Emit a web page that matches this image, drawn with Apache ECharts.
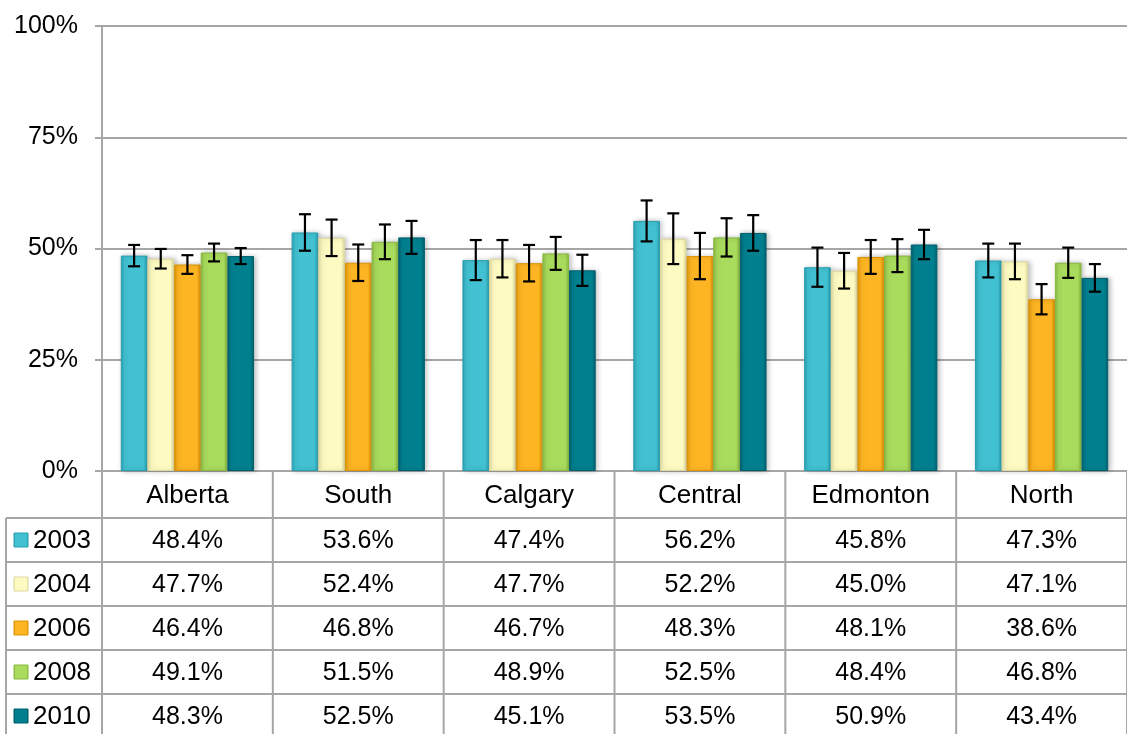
<!DOCTYPE html>
<html>
<head>
<meta charset="utf-8">
<script src="https://cdn.jsdelivr.net/npm/echarts@6/dist/echarts.min.js"></script>
<style>
html, body { margin: 0; padding: 0; background: #fff; }
#chart { width: 1127px; height: 734px; }
</style>
</head>
<body>
<div id="chart"></div>
<script>
// data
var categories = ['Alberta', 'South', 'Calgary', 'Central', 'Edmonton', 'North'];
var years = ['2003', '2004', '2006', '2008', '2010'];
var v2003 = [48.4, 53.6, 47.4, 56.2, 45.8, 47.3];
var v2004 = [47.7, 52.4, 47.7, 52.2, 45.0, 47.1];
var v2006 = [46.4, 46.8, 46.7, 48.3, 48.1, 38.6];
var v2008 = [49.1, 51.5, 48.9, 52.5, 48.4, 46.8];
var v2010 = [48.3, 52.5, 45.1, 53.5, 50.9, 43.4];
// half-width of the error bars (percentage points)
var e2003 = [2.4, 4.1, 4.5, 4.6, 4.4, 3.8];
var e2004 = [2.2, 4.1, 4.2, 5.7, 4.0, 4.0];
var e2006 = [2.1, 4.1, 4.1, 5.2, 3.8, 3.4];
var e2008 = [2.0, 3.9, 3.7, 4.3, 3.7, 3.4];
var e2010 = [1.8, 3.7, 3.5, 4.0, 3.3, 3.1];
var yTicks = [0, 25, 50, 75, 100];

var values = [v2003, v2004, v2006, v2008, v2010];
var errors = [e2003, e2004, e2006, e2008, e2010];
// base colour / edge colour per year
var baseColors = ['#41c1d1', '#fefbc2', '#fdb523', '#a9db5d', '#00808f'];
var edgeColors = ['#2a9fb0', '#ddd9a0', '#dc9306', '#87b940', '#005f6c'];

var FONT = '"Liberation Sans", Arial, sans-serif';
var W = 1127, H = 734;
var GRID_L = 102, GRID_R = 0, GRID_T = 26, GRID_B = 263;
var HEAD_TOP = H - GRID_B;     // 471
var TABLE_TOP = 518;
var ROW_H = 44;
var LEGEND_L = 6;
var CAT_GAP = 0.22;
var LINE_C = '#a6a6a6';

var myChart = echarts.init(document.getElementById('chart'));

function grad(base, edge) {
  return new echarts.graphic.LinearGradient(0, 0, 1, 0, [
    { offset: 0, color: edge },
    { offset: 0.14, color: base },
    { offset: 0.86, color: base },
    { offset: 1, color: edge }
  ]);
}

// error bars, offset to sit on each bar of the group
function errRender(k) {
  return function (params, api) {
    var idx = api.value(0);
    var band = api.size([1, 0])[0];
    var bw = band * (1 - CAT_GAP) / years.length;
    var lo = api.coord([idx, api.value(1)]);
    var hi = api.coord([idx, api.value(2)]);
    var x = lo[0] + (k - (years.length - 1) / 2) * bw;
    var cap = 6;
    var st = { stroke: '#000', lineWidth: 2.2 };
    return {
      type: 'group',
      children: [
        { type: 'line', shape: { x1: x, y1: hi[1], x2: x, y2: lo[1] }, style: st },
        { type: 'line', shape: { x1: x - cap, y1: hi[1], x2: x + cap, y2: hi[1] }, style: st },
        { type: 'line', shape: { x1: x - cap, y1: lo[1], x2: x + cap, y2: lo[1] }, style: st }
      ]
    };
  };
}

var series = [];
years.forEach(function (y, k) {
  series.push({
    name: y,
    type: 'bar',
    data: values[k],
    barGap: '0%',
    barCategoryGap: (CAT_GAP * 100) + '%',
    itemStyle: {
      color: grad(baseColors[k], edgeColors[k]),
      borderColor: edgeColors[k],
      borderWidth: 1,
      shadowColor: 'rgba(0,0,0,0.25)',
      shadowBlur: 5,
      shadowOffsetX: 2
    },
    silent: true
  });
});
years.forEach(function (y, k) {
  series.push({
    name: 'err' + y,
    type: 'custom',
    renderItem: errRender(k),
    encode: { x: 0, y: [1, 2] },
    data: categories.map(function (c, j) {
      return [j, values[k][j] - errors[k][j], values[k][j] + errors[k][j]];
    }),
    z: 10,
    silent: true
  });
});

// data table below the chart
var colW = (W - GRID_L - GRID_R) / categories.length;
var graphics = [];
for (var i = 0; i < years.length; i++) {
  var ly = TABLE_TOP + i * ROW_H;
  graphics.push({ type: 'line', shape: { x1: LEGEND_L, y1: ly, x2: W, y2: ly },
    style: { stroke: LINE_C, lineWidth: 2 }, z: 5 });
}
graphics.push({ type: 'line', shape: { x1: LEGEND_L, y1: TABLE_TOP, x2: LEGEND_L, y2: H },
  style: { stroke: LINE_C, lineWidth: 2 }, z: 5 });
for (var c = 0; c <= categories.length; c++) {
  var cx = GRID_L + c * colW;
  graphics.push({ type: 'line', shape: { x1: cx, y1: HEAD_TOP, x2: cx, y2: H },
    style: { stroke: LINE_C, lineWidth: 2 }, z: 5 });
}
years.forEach(function (y, k) {
  var rowMid = TABLE_TOP + (k + 0.5) * ROW_H + 1;
  // legend key + year in the first column
  graphics.push({
    type: 'rect',
    shape: { x: 14, y: rowMid - 8, width: 14, height: 14 },
    style: { fill: grad(baseColors[k], edgeColors[k]), stroke: edgeColors[k], lineWidth: 1 },
    z: 6
  });
  graphics.push({
    type: 'text',
    x: 33,
    y: rowMid,
    style: { text: y, font: '26px ' + FONT, fill: '#000', align: 'left', verticalAlign: 'middle' },
    z: 6
  });
  categories.forEach(function (cat, j) {
    graphics.push({
      type: 'text',
      x: GRID_L + (j + 0.5) * colW,
      y: rowMid,
      style: {
        text: values[k][j].toFixed(1) + '%',
        font: '25px ' + FONT,
        fill: '#000',
        align: 'center',
        verticalAlign: 'middle'
      },
      z: 6
    });
  });
});

var option = {
  animation: false,
  backgroundColor: '#fff',
  grid: { left: GRID_L, right: GRID_R, top: GRID_T, bottom: GRID_B, containLabel: false },
  xAxis: {
    type: 'category',
    data: categories,
    axisLine: { show: true, lineStyle: { color: LINE_C, width: 2 } },
    axisTick: { show: false },
    axisLabel: { color: '#000', fontSize: 26, fontFamily: FONT, margin: 12 }
  },
  yAxis: {
    type: 'value',
    min: yTicks[0],
    max: yTicks[yTicks.length - 1],
    interval: yTicks[1] - yTicks[0],
    axisLine: { show: true, lineStyle: { color: LINE_C, width: 2 } },
    axisTick: { show: true, length: 7, lineStyle: { color: LINE_C, width: 2 } },
    axisLabel: { color: '#000', fontSize: 25, fontFamily: FONT, margin: 24, formatter: '{value}%' },
    splitLine: { show: true, lineStyle: { color: LINE_C, width: 2 } }
  },
  graphic: graphics,
  series: series
};
myChart.setOption(option);
window.addEventListener('resize', function () {
  myChart.resize();
});
</script>
</body>
</html>
